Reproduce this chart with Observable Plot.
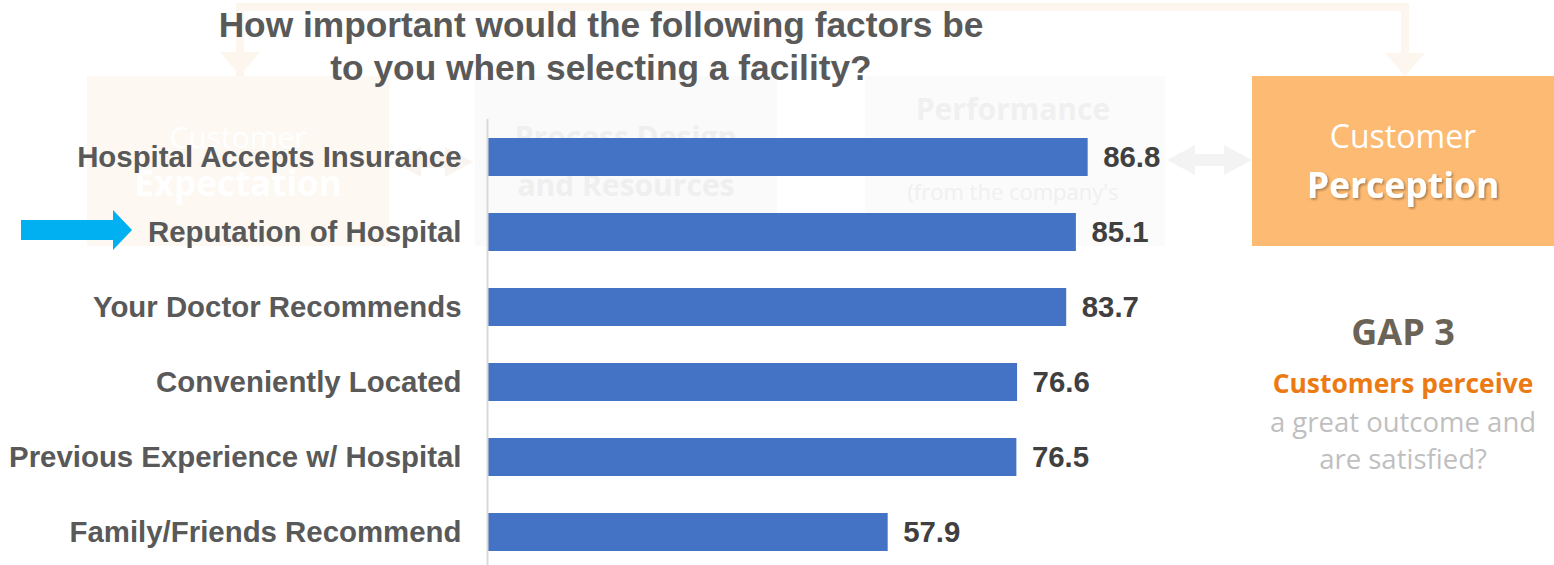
<!DOCTYPE html>
<html>
<head>
<meta charset="utf-8">
<script src="https://cdn.jsdelivr.net/npm/d3@7"></script>
<script src="https://cdn.jsdelivr.net/npm/@observablehq/plot@0.6"></script>
<style>
  html, body { margin: 0; padding: 0; background: #fff; overflow: hidden; }
  #wrap { position: relative; width: 1554px; height: 565px; overflow: hidden; }
  #wrap > svg { position: absolute; left: 0; top: 0; }
</style>
</head>
<body>
<div id="wrap"></div>
<script>
// ---- data ----
const categories = [
  "Hospital Accepts Insurance",
  "Reputation of Hospital",
  "Your Doctor Recommends",
  "Conveniently Located",
  "Previous Experience w/ Hospital",
  "Family/Friends Recommend"
];
const values = [86.8, 85.1, 83.7, 76.6, 76.5, 57.9];
const titleLines = ["How important would the following factors be", "to you when selecting a facility?"];
const highlighted = "Reputation of Hospital";
const gapTitle = "GAP 3";
const gapLines = ["Customers perceive", "a great outcome and", "are satisfied?"];

const data = categories.map((c, i) => ({factor: c, value: values[i]}));

const wrap = document.getElementById("wrap");
const W = 1554, H = 565;

// ---- faint background diagram ----
const bg = d3.create("svg").attr("width", W).attr("height", H)
  .style("font-family", "'Open Sans', sans-serif");
const faint = "#fcf6ef";
bg.append("path").attr("d", "M240 76 V7 H1405 V60").attr("fill", "none")
  .attr("stroke", faint).attr("stroke-width", 8);
bg.append("polygon").attr("points", "220,52 260,52 240,76").attr("fill", faint);
bg.append("polygon").attr("points", "1385,53 1425,53 1405,76").attr("fill", faint);
// boxes
bg.append("rect").attr("x", 87).attr("y", 76).attr("width", 302).attr("height", 170).attr("fill", "#fdf8f2");
bg.append("rect").attr("x", 475).attr("y", 76).attr("width", 302).attr("height", 170).attr("fill", "#fafafa");
bg.append("rect").attr("x", 865).attr("y", 76).attr("width", 300).attr("height", 170).attr("fill", "#fbfbfb");
bg.append("rect").attr("x", 1252).attr("y", 76).attr("width", 302).attr("height", 170).attr("fill", "#fdba72");
// double arrows
function dblArrow(x0, x1, cy, color) {
  const hl = 28, hh = 15, sh = 6;
  bg.append("polygon").attr("fill", color).attr("points", [
    [x0, cy], [x0 + hl, cy - hh], [x0 + hl, cy - sh], [x1 - hl, cy - sh], [x1 - hl, cy - hh],
    [x1, cy], [x1 - hl, cy + hh], [x1 - hl, cy + sh], [x0 + hl, cy + sh], [x0 + hl, cy + hh]
  ].map(p => p.join(",")).join(" "));
}
dblArrow(393, 473, 162, "#f9f4ef");
dblArrow(1167, 1252, 160, "#f3f3f3");
// faint box texts
function t(x, y, s, size, weight, fill) {
  return bg.append("text").attr("x", x).attr("y", y).attr("text-anchor", "middle")
    .attr("font-size", size).attr("font-weight", weight).attr("fill", fill).text(s);
}
t(238, 148, "Customer", 30, "normal", "#ffffff");
t(238, 196, "Expectation", 35, "bold", "#ffffff");
t(626, 148, "Process Design", 30, "bold", "#efefef");
t(626, 196, "and Resources", 30, "bold", "#efefef");
t(1013, 120, "Performance", 30, "bold", "#f0f0f0");
t(1013, 200, "(from the company's", 22, "normal", "#f0f0f0");
t(1013, 234, "perspective)", 22, "normal", "#f0f0f0");
// orange box text
const defs = bg.append("defs");
defs.append("filter").attr("id", "sh").html('<feDropShadow dx="1.5" dy="1.5" stdDeviation="1" flood-color="#000" flood-opacity="0.35"/>');
t(1403, 148, "Customer", 32, "normal", "#ffffff");
t(1403, 198, "Perception", 35.5, "bold", "#ffffff").attr("filter", "url(#sh)");
wrap.appendChild(bg.node());

// ---- the chart ----
const chart = Plot.plot({
  width: W,
  height: 570,
  marginLeft: 487,
  marginRight: 375,
  marginTop: 119,
  marginBottom: 1,
  style: {
    background: "transparent",
    fontFamily: "'Liberation Sans', Arial, sans-serif",
    fontSize: "29.4px",
    fontWeight: "bold",
    color: "#595959",
    overflow: "visible"
  },
  x: {domain: [0, 100], axis: null},
  y: {domain: categories, paddingInner: 0.5, paddingOuter: 0.25, tickSize: 0, tickPadding: 26, label: null},
  marks: [
    Plot.barX(data, {x: "value", y: "factor", fill: "#4472C4"}),
    Plot.ruleX([0], {stroke: "#d9d9d9", strokeWidth: 2}),
    Plot.text(data, {x: "value", y: "factor", text: d => d.value.toFixed(1), dx: 15, textAnchor: "start", fill: "#404040"})
  ]
});
wrap.appendChild(chart);

// ---- foreground annotations ----
const fg = d3.create("svg").attr("width", W).attr("height", H);
const title = fg.append("text").attr("text-anchor", "middle")
  .attr("font-family", "'Liberation Sans', Arial, sans-serif")
  .attr("font-size", 35.3).attr("font-weight", "bold").attr("fill", "#595959");
title.append("tspan").attr("x", 601).attr("y", 37).text(titleLines[0]);
title.append("tspan").attr("x", 601).attr("y", 80).text(titleLines[1]);

// highlight arrow, placed on the highlighted category via the plot's y scale
const ys = chart.scale("y");
const cy = ys.apply(highlighted) + ys.bandwidth / 2 - 2;
fg.append("polygon").attr("fill", "#00b0f0").attr("points", [
  [21, cy - 10], [113, cy - 10], [113, cy - 20], [132, cy], [113, cy + 20], [113, cy + 10], [21, cy + 10]
].map(p => p.join(",")).join(" "));

const g = fg.append("g").attr("font-family", "'Open Sans', sans-serif").attr("text-anchor", "middle");
g.append("text").attr("x", 1403).attr("y", 345).attr("font-size", 36).attr("font-weight", "bold")
  .attr("fill", "#6b6356").text(gapTitle);
g.append("text").attr("x", 1403).attr("y", 393).attr("font-size", 26.4).attr("font-weight", "bold")
  .attr("fill", "#ec7a12").text(gapLines[0]);
g.append("text").attr("x", 1403).attr("y", 432).attr("font-size", 27.5)
  .attr("fill", "#bfbfbf").text(gapLines[1]);
g.append("text").attr("x", 1403).attr("y", 469).attr("font-size", 27.5)
  .attr("fill", "#bfbfbf").text(gapLines[2]);
wrap.appendChild(fg.node());
</script>
</body>
</html>
